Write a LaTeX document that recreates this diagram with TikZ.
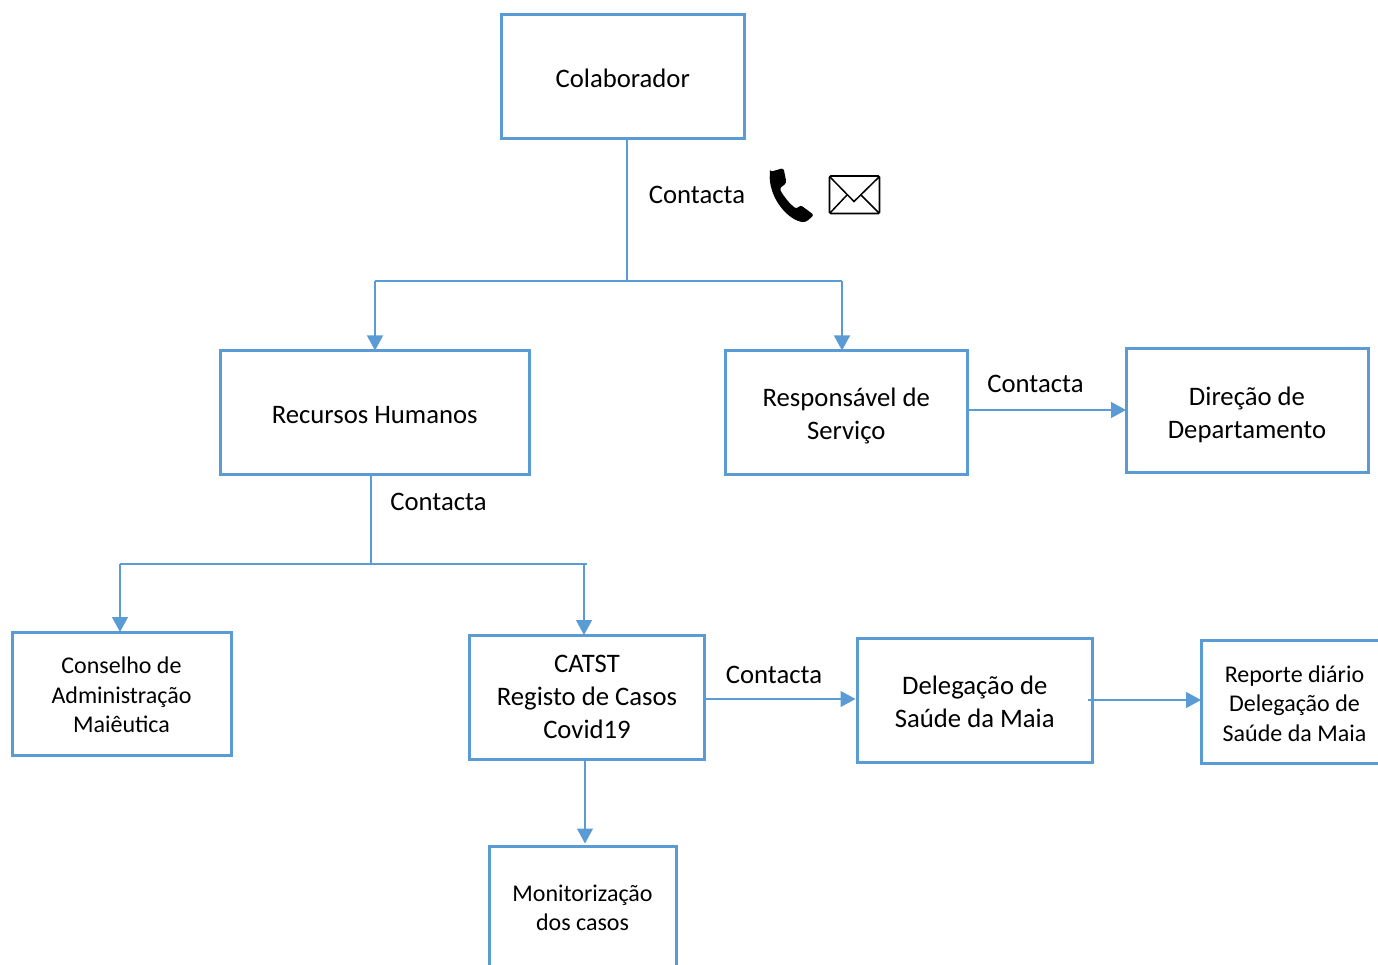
\documentclass[tikz,border=0pt]{standalone}
\usepackage{fontspec}
\setmainfont{Carlito}
\usetikzlibrary{arrows.meta,calc}
\definecolor{blu}{HTML}{5B9BD5}
\tikzset{
  x=1pt,y=-1pt,
  box/.style={draw=blu,line width=3pt,fill=white,inner sep=0pt,align=center,text=black,font=\fontsize{26.7}{33}\selectfont},
  smallbox/.style={box,font=\fontsize{24}{29.5}\selectfont},
  lab/.style={inner sep=0pt,text=black,font=\fontsize{26.7}{30}\selectfont},
  link/.style={draw=blu,line width=1.2pt},
  arr/.style={link,-{Triangle[length=15pt,width=16pt,fill=blu]},shorten >=-1.5pt},
}
\newcommand{\bx}[7][box]{% style,name,x1,y1,x2,y2,text
  \node[#1,minimum width=#5pt-#3pt,minimum height=#6pt-#4pt] (#2) at ({(#3+#5)/2},{(#4+#6)/2}) {#7};}
\newcommand{\tb}[2]{\raisebox{#1}{\begin{tabular}{@{}c@{}}#2\end{tabular}}}
\newcommand{\dn}[1]{\rule{0pt}{\dimexpr 20pt+2\dimexpr #1pt\relax\relax}}
\begin{document}
\begin{tikzpicture}
\useasboundingbox (0,0) rectangle (1378,965);
\clip (0,0) rectangle (1378,965);
\bx{colab}{501.5}{15}{744}{138.5}{\dn{1}Colaborador}
\bx{rh}{220}{350.5}{529.5}{474}{\dn{1.5}Recursos Humanos}
\bx{resp}{725}{350.5}{967.5}{474}{\dn{3}Responsável de\\Serviço}
\bx{dir}{1126}{349}{1368}{472.5}{\dn{3}Direção de\\Departamento}
\bx[smallbox]{cons}{12}{632}{231}{755.5}{\dn{-0.5}Conselho de\\Administração\\Maiêutica}
\bx{catst}{469.5}{635}{704.5}{759}{CATST\\Registo de Casos\\Covid19}
\bx{deleg}{857}{638}{1092.5}{762}{\dn{1}Delegação de\\Saúde da Maia}
\bx[smallbox]{rep}{1201}{640}{1388}{763.5}{\dn{0}Reporte diário\\Delegação de\\Saúde da Maia}
\bx[smallbox]{mon}{489}{846}{676}{975}{\tb{5pt}{Monitorização\\[-0.5pt]dos casos}}
\coordinate (j1) at (627,281);
\coordinate (j1l) at (375,281);
\coordinate (j1r) at (842,281);
\coordinate (j2) at (371,564);
\coordinate (j2l) at (120,564);
\coordinate (j2r) at (584,564);
\coordinate (j2e) at (587,564);
\coordinate (rd) at (0,410);
\coordinate (cd) at (0,699);
\draw[link] (colab.south -| j1) -- (j1);
\draw[link] (j1l) -- (j1r);
\draw[arr] (j1l) -- (j1l |- rh.north);
\draw[arr] (j1r) -- (j1r |- resp.north);
\draw[arr] (resp.east |- rd) -- (dir.west |- rd);
\draw[link] (rh.south -| j2) -- (j2);
\draw[link] (j2l) -- (j2e);
\draw[arr] (j2l) -- (j2l |- cons.north);
\draw[arr] (j2r) -- (j2r |- catst.north);
\draw[arr,shorten >=0pt] (catst.east |- cd) -- (deleg.west |- cd);
\coordinate (d0) at (1088,700);
\draw[arr] (d0) -- (rep.west |- d0);
\coordinate (m0) at (585,759);
\draw[arr,shorten >=1pt] (m0) -- (m0 |- mon.north);
\node[lab] (l1) at (697,195) {Contacta};
\node[lab] (l2) at (1035.5,384) {Contacta};
\node[lab] (l3) at (438.5,502) {Contacta};
\node[lab] (l4) at (774,675) {Contacta};
% phone
\fill[black,rounded corners=2.5pt] (770,172) -- (783.5,168) -- (786.5,183) -- (779.5,188.5)
  .. controls (784,197) and (790,204) .. (796.5,209) -- (800.5,205) -- (814,215) -- (806,222)
  .. controls (796,222) and (787,215) .. (780,206) .. controls (773,196) and (769,184) .. (770,172) -- cycle;
% envelope
\draw[black,line width=1.8pt,rounded corners=1.5pt] (829.5,176) rectangle (879.5,213.5);
\draw[black,line width=1.5pt] (830,177) -- (854,201.5) -- (879,177);
\draw[black,line width=1.5pt] (830,213) -- (847,195);
\draw[black,line width=1.5pt] (879,213) -- (861,195);
\end{tikzpicture}
\end{document}
